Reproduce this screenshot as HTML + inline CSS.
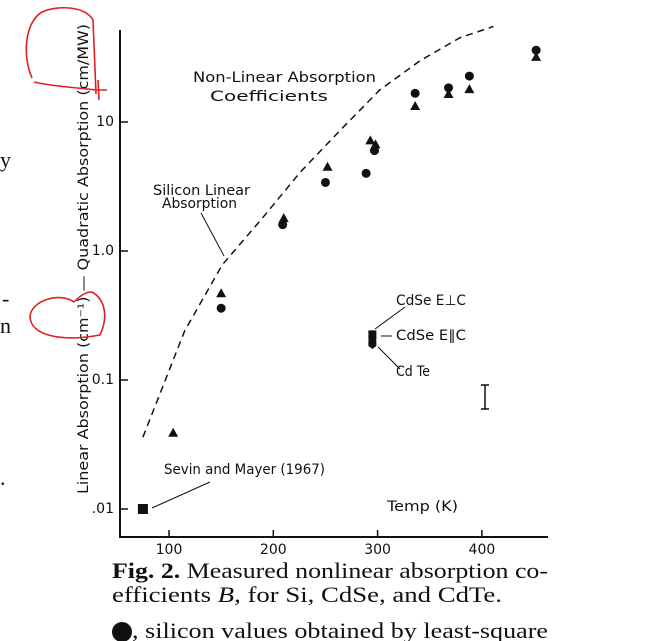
<!DOCTYPE html>
<html><head><meta charset="utf-8"><style>
html,body{margin:0;padding:0;background:#fff;width:658px;height:641px;overflow:hidden}
svg{display:block}
.s{font-family:"DejaVu Sans","Liberation Sans",sans-serif;font-size:14px;fill:#111}
.c{font-family:"Liberation Serif",serif;font-size:22px;fill:#111}
</style></head><body>
<svg id="chart" width="658" height="641" viewBox="0 0 658 641">
<g id="axes"></g>
<g id="marks"></g>
<text class="s" x="193" y="82" textLength="183" lengthAdjust="spacingAndGlyphs">Non-Linear Absorption</text>
<text class="s" x="210" y="101" textLength="118" lengthAdjust="spacingAndGlyphs">Coefficients</text>
<text class="s" x="153" y="195" textLength="97" lengthAdjust="spacingAndGlyphs">Silicon Linear</text>
<text class="s" x="162" y="208" textLength="75" lengthAdjust="spacingAndGlyphs">Absorption</text>
<line x1="201" y1="213" x2="224" y2="256" stroke="#111" stroke-width="1"/>
<text class="s" x="164" y="474" textLength="161" lengthAdjust="spacingAndGlyphs">Sevin and Mayer (1967)</text>
<line x1="152" y1="508" x2="210" y2="482" stroke="#111" stroke-width="1"/>
<text class="s" x="396" y="305" textLength="70" lengthAdjust="spacingAndGlyphs">CdSe E⊥C</text>
<text class="s" x="396" y="340" textLength="70" lengthAdjust="spacingAndGlyphs">CdSe E∥C</text>
<text class="s" x="396" y="376" textLength="34" lengthAdjust="spacingAndGlyphs">Cd Te</text>
<line x1="375" y1="329" x2="405" y2="307" stroke="#111"/>
<line x1="381" y1="336" x2="392" y2="336" stroke="#111"/>
<line x1="378" y1="347" x2="400" y2="369" stroke="#111"/>
<g stroke="#111" stroke-width="1.5">
<line x1="485" y1="385" x2="485" y2="409"/><line x1="481" y1="385" x2="489" y2="385"/><line x1="481" y1="409" x2="489" y2="409"/></g>
<text class="s" x="387" y="511" textLength="71" lengthAdjust="spacingAndGlyphs">Temp (K)</text>
<text class="s" transform="translate(88,494) rotate(-90)" textLength="470" lengthAdjust="spacingAndGlyphs">Linear Absorption (cm⁻¹) — Quadratic Absorption (cm/MW)</text>
<path d="M32,78 C22,55 25,22 42,12 C58,5 85,6 93,20 L96,94 M34,82 C50,86 70,87 96,90 L107,90 M98,80 L99,100" fill="none" stroke="#e02020" stroke-width="1.6"/>
<path d="M74,302 C60,292 32,300 30,316 C30,336 62,342 100,335 C108,318 106,300 92,292 C85,292 80,296 74,302" fill="none" stroke="#e02020" stroke-width="1.6"/>
<text class="c" x="112" y="578" textLength="436" lengthAdjust="spacingAndGlyphs"><tspan font-weight="bold">Fig. 2.</tspan>  Measured nonlinear absorption co-</text>
<text class="c" x="112" y="602" textLength="390" lengthAdjust="spacingAndGlyphs">efficients <tspan font-style="italic">B</tspan>, for Si, CdSe, and CdTe.</text>
<circle cx="122" cy="632" r="10" fill="#111"/>
<text class="c" x="132" y="638" textLength="416" lengthAdjust="spacingAndGlyphs">, silicon values obtained by least-square</text>
<text class="c" x="0" y="167">y</text>
<text class="c" x="2" y="306">-</text>
<text class="c" x="0" y="333">n</text>
<text class="c" x="0" y="485">.</text>
</svg>
<script>
const xTicks=[100,200,300,400];
const yTicks=[0.01,0.1,1,10];
const yTickLabels=[".01","0.1","1.0","10"];
const circleT=[150,209,250,289,297,336,368,388,452];
const circleV=[0.36,1.6,3.4,4.0,6.0,16.7,18.4,22.7,36];
const triT=[104,150,210,252,293,298,336,368,388,452];
const triV=[0.039,0.47,1.8,4.5,7.2,6.7,13.3,16.5,18,32];
const squareT=[75];const squareV=[0.01];
const cdT=[295,295,295];const cdV=[0.23,0.21,0.19];
const curveT=[75,115,151,188,226,264,302,341,379,411];
const curveV=[0.036,0.24,0.78,1.74,4.1,8.6,17.7,30,45,55];
const NS="http://www.w3.org/2000/svg";
const X=t=>169+(t-100)*1.043;
const Y=v=>251-129*Math.log10(v);
function mk(tag,at,p){const e=document.createElementNS(NS,tag);for(const k in at)e.setAttribute(k,at[k]);p.appendChild(e);return e;}
const ax=document.getElementById('axes'),mg=document.getElementById('marks');
mk('line',{x1:120,y1:30,x2:120,y2:537,stroke:'#111','stroke-width':2},ax);
mk('line',{x1:119,y1:537,x2:548,y2:537,stroke:'#111','stroke-width':2},ax);
xTicks.forEach(t=>{mk('line',{x1:X(t),y1:537,x2:X(t),y2:530,stroke:'#111','stroke-width':1.5},ax);
const tx=mk('text',{x:X(t),y:554,'text-anchor':'middle',class:'s'},ax);tx.textContent=t;

});
yTicks.forEach((v,i)=>{mk('line',{x1:120,y1:Y(v),x2:128,y2:Y(v),stroke:'#111','stroke-width':1.5},ax);
const tx=mk('text',{x:114,y:Y(v)+4,'text-anchor':'end',class:'s'},ax);tx.textContent=yTickLabels[i];

});
const cp=mk('path',{d:curveT.map((t,i)=>(i?'L':'M')+X(t).toFixed(1)+','+Y(curveV[i]).toFixed(1)).join(''),fill:'none',stroke:'#111','stroke-width':1.5,'stroke-dasharray':'7,5'},mg);


circleT.forEach((t,i)=>{const c=mk('circle',{cx:X(t),cy:Y(circleV[i]),r:4.5,fill:'#111'},mg);

});
triT.forEach((t,i)=>{const x=X(t),y=Y(triV[i]);const p=mk('polygon',{points:`${x-5},${y+4} ${x+5},${y+4} ${x},${y-5}`,fill:'#111'},mg);

});
squareT.forEach((t,i)=>{const r=mk('rect',{x:X(t)-5,y:Y(squareV[i])-5,width:10,height:10,fill:'#111'},mg);

});
cdT.forEach((t,i)=>{const x=X(t),y=Y(cdV[i]);const p=mk('polygon',{points:`${x-4},${y-3} ${x+4},${y-3} ${x+4},${y+2} ${x},${y+5} ${x-4},${y+2}`,fill:'#111'},mg);

});
</script>
</body></html>
